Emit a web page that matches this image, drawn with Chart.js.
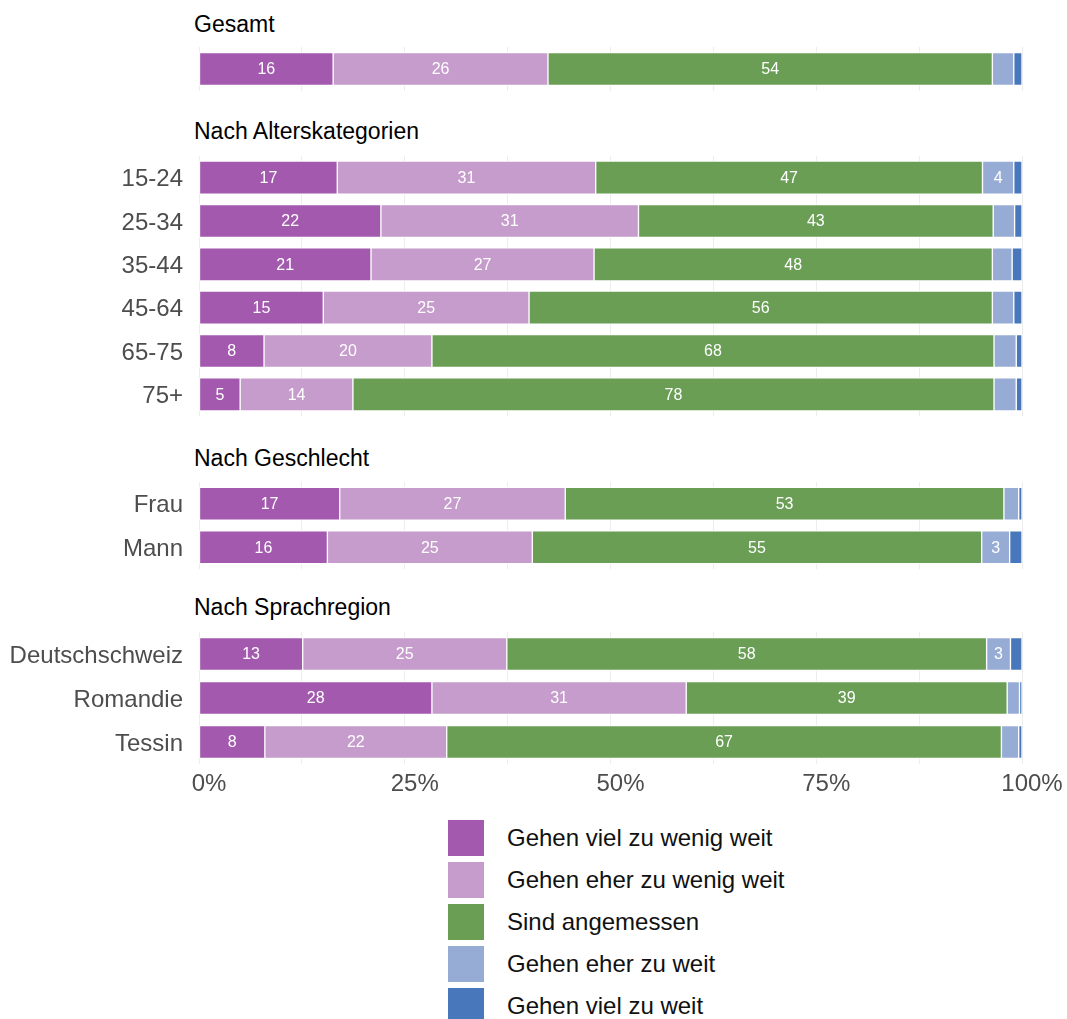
<!DOCTYPE html>
<html>
<head>
<meta charset="utf-8">
<title>Massnahmen</title>
<script src="https://cdn.jsdelivr.net/npm/chart.js@4.4.1/dist/chart.umd.min.js"></script>
<style>
  body { margin: 0; background: #fff; font-family: 'Liberation Sans', Arial, Helvetica, sans-serif; }
  #wrap { position: relative; width: 1067px; height: 1019px; overflow: hidden; }
  #wrap canvas { position: absolute; left: 0; }
  .title { position: absolute; left: 194px; font-size: 23px; line-height: 28px; color: #000; white-space: nowrap; }
  .legend-row { position: absolute; left: 448px; height: 36px; display: flex; align-items: center; }
  .legend-box { width: 36px; height: 36px; margin-right: 23px; }
  .legend-text { font-size: 24px; color: #111; white-space: nowrap; }
</style>
</head>
<body>
<div id="wrap">
  <div class="title" style="top:10px">Gesamt</div>
  <div class="title" style="top:117px">Nach Alterskategorien</div>
  <div class="title" style="top:444px">Nach Geschlecht</div>
  <div class="title" style="top:593px">Nach Sprachregion</div>
  <canvas id="panel0" width="1067" height="44" style="top:47px"></canvas>
  <canvas id="panel1" width="1067" height="260" style="top:156px"></canvas>
  <canvas id="panel2" width="1067" height="87" style="top:482px"></canvas>
  <canvas id="panel3" width="1067" height="177" style="top:632px"></canvas>
  <div id="legend"></div>
</div>
<script>
//Data (percent)
const rowLabels = ['', '15-24', '25-34', '35-44', '45-64', '65-75', '75+', 'Frau', 'Mann', 'Deutschschweiz', 'Romandie', 'Tessin'];
const panelRows = [[0], [1, 2, 3, 4, 5, 6], [7, 8], [9, 10, 11]];

const seriesNames = ['Gehen viel zu wenig weit', 'Gehen eher zu wenig weit', 'Sind angemessen', 'Gehen eher zu weit', 'Gehen viel zu weit'];
const vielZuWenig = [16.3, 16.8, 22.1, 20.9, 15.1, 7.9, 5.0, 17.1, 15.6, 12.6, 28.3, 8.0];
const eherZuWenig = [26.1, 31.4, 31.3, 27.1, 25.0, 20.4, 13.7, 27.4, 24.9, 24.8, 30.9, 22.1];
const angemessen = [54.0, 47.0, 43.1, 48.4, 56.3, 68.3, 77.9, 53.3, 54.6, 58.3, 39.0, 67.4];
const eherZuWeit = [2.6, 3.8, 2.6, 2.4, 2.6, 2.7, 2.7, 1.8, 3.4, 2.9, 1.5, 2.1];
const vielZuWeit = [1.0, 1.0, 0.9, 1.2, 1.0, 0.7, 0.7, 0.4, 1.5, 1.4, 0.3, 0.4];
const xTicks = [0, 25, 50, 75, 100];

const seriesValues = [vielZuWenig, eherZuWenig, angemessen, eherZuWeit, vielZuWeit];
const seriesColors = ['#a259ae', '#c59ccb', '#6a9e55', '#97acd4', '#4878bb'];

Chart.defaults.font.family = "'Liberation Sans', Arial, Helvetica, sans-serif";

//Draw the rounded value inside each segment that is wide enough
const barLabels = {
  id: 'barLabels',
  afterDatasetsDraw(chart) {
    const ctx = chart.ctx;
    ctx.save();
    ctx.font = "16px 'Liberation Sans', Arial, sans-serif";
    ctx.fillStyle = '#fff';
    ctx.textAlign = 'center';
    ctx.textBaseline = 'middle';
    chart.data.datasets.forEach((ds, d) => {
      chart.getDatasetMeta(d).data.forEach((bar, i) => {
        const v = ds.data[i];
        if (v < 2.8) return;
        const p = bar.getProps(['x', 'y', 'base'], true);
        ctx.fillText(String(Math.round(v)), (p.x + p.base) / 2, p.y + 1);
      });
    });
    ctx.restore();
  },
};

//Create one facet panel
function createPanel(canvasId, rows, isLast) {
  const datasets = seriesNames.map((name, s) => ({
    label: name,
    data: rows.map((r) => seriesValues[s][r]),
    backgroundColor: seriesColors[s],
    borderColor: '#fff',
    borderWidth: 1,
    borderSkipped: false,
    barThickness: 33,
  }));

  return new Chart(document.getElementById(canvasId), {
    type: 'bar',
    data: { labels: rows.map((r) => rowLabels[r]), datasets },
    plugins: [barLabels],
    options: {
      indexAxis: 'y',
      responsive: false,
      animation: false,
      layout: { padding: { left: 0, right: 45, top: 0, bottom: 0 } },
      plugins: { legend: { display: false }, tooltip: { enabled: false } },
      scales: {
        x: {
          stacked: true,
          min: 0,
          max: 100,
          border: { display: false },
          grid: { color: '#ededed', lineWidth: 1, drawTicks: false },
          afterBuildTicks(scale) {
            scale.ticks = [0, 12.5, 25, 37.5, 50, 62.5, 75, 87.5, 100].map((v) => ({ value: v }));
          },
          ticks: {
            display: isLast,
            autoSkip: false,
            maxRotation: 0,
            padding: 6,
            labelOffset: 10,
            color: '#4d4d4d',
            font: { size: 24 },
            callback: (v) => (xTicks.includes(v) ? v + '%' : ''),
          },
          afterFit(scale) {
            scale.height = isLast ? 45 : 0;
            scale.paddingLeft = 0;
            scale.paddingRight = 0;
          },
        },
        y: {
          stacked: true,
          border: { display: false },
          grid: { display: false, drawTicks: false },
          ticks: { padding: 16, labelOffset: 2, color: '#4d4d4d', font: { size: 24 } },
          afterFit(scale) {
            scale.width = 199;
            scale.paddingTop = 0;
            scale.paddingBottom = 0;
          },
        },
      },
    },
  });
}

panelRows.forEach((rows, p) => createPanel('panel' + p, rows, p === panelRows.length - 1));

//Legend
const legend = document.getElementById('legend');
seriesNames.forEach((name, s) => {
  const row = document.createElement('div');
  row.className = 'legend-row';
  row.style.top = 820 + s * 42 + 'px';
  row.innerHTML = '<div class="legend-box" style="background:' + seriesColors[s] + '"></div><span class="legend-text">' + name + '</span>';
  legend.appendChild(row);
});
</script>
</body>
</html>
